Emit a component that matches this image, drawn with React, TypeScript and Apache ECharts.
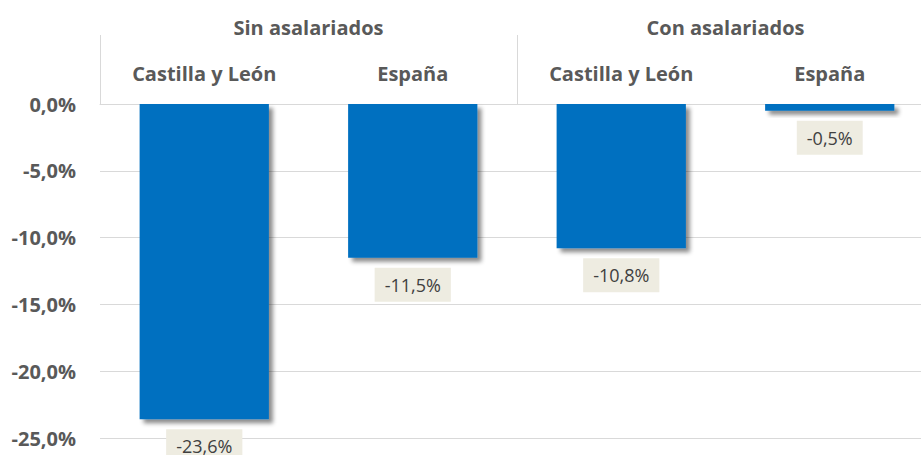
import React, { useEffect, useRef } from "react";
import * as echarts from "echarts";

const categories = ["Castilla y León", "España", "Castilla y León", "España"];
const groups = ["Sin asalariados", "Con asalariados"];
const values = [-23.6, -11.5, -10.8, -0.5];

const fmt = (v: number) => v.toFixed(1).replace(".", ",") + "%";
const FONT = "'Open Sans', sans-serif";

export default function App() {
  const ref = useRef<HTMLDivElement>(null);
  useEffect(() => {
    const chart = echarts.init(ref.current!, undefined, { renderer: "svg" });
    chart.setOption({
      animation: false,
      grid: { left: 100, right: 0, top: 104, bottom: 17 },
      xAxis: [
        {
          type: "category",
          data: categories,
          position: "top",
          axisLine: { show: true, lineStyle: { color: "#d9d9d9" } },
          axisTick: { show: false },
          axisLabel: {
            margin: 21,
            color: "#595959",
            fontWeight: "bold",
            fontSize: 20,
            fontFamily: FONT,
            interval: 0,
          },
        },
        {
          type: "category",
          data: groups,
          position: "top",
          axisLine: { show: false },
          axisTick: { show: true, length: 69, lineStyle: { color: "#d9d9d9" } },
          axisLabel: {
            margin: 67,
            color: "#595959",
            fontWeight: "bold",
            fontSize: 20,
            fontFamily: FONT,
            interval: 0,
          },
        },
      ],
      yAxis: {
        type: "value",
        min: -25,
        max: 0,
        interval: 5,
        axisLine: { show: false },
        axisTick: { show: false },
        splitLine: { lineStyle: { color: "#d9d9d9" } },
        axisLabel: {
          margin: 24,
          color: "#595959",
          fontWeight: "bold",
          fontSize: 20,
          fontFamily: FONT,
          formatter: (v: number) => fmt(v),
        },
      },
      series: [
        {
          type: "bar",
          data: values,
          xAxisIndex: 0,
          barWidth: "62%",
          itemStyle: {
            color: "#0070C0",
            shadowColor: "rgba(0,0,0,0.45)",
            shadowBlur: 4,
            shadowOffsetX: 4,
            shadowOffsetY: 4,
          },
          label: {
            show: true,
            position: "bottom",
            distance: 10,
            formatter: (p: any) => fmt(p.value),
            color: "#404040",
            fontSize: 18,
            lineHeight: 18,
            fontFamily: FONT,
            backgroundColor: "#EEECE1",
            padding: [8, 10, 8, 10],
          },
        },
      ],
    });
    return () => chart.dispose();
  }, []);
  return (
    <div style={{ position: "absolute", left: 0, top: 0, width: 921, height: 455, overflow: "hidden", background: "#fff" }}>
      <div ref={ref} style={{ width: 934, height: 455 }} />
    </div>
  );
}
